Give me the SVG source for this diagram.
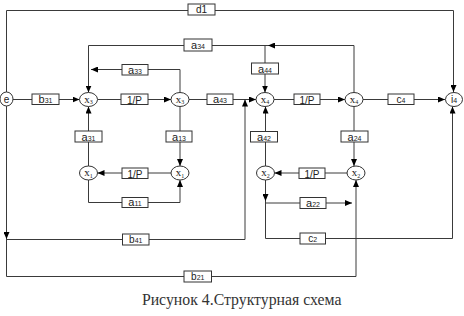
<svg xmlns="http://www.w3.org/2000/svg" width="464" height="316" viewBox="0 0 464 316">
<defs>
<marker id="ar" markerUnits="userSpaceOnUse" markerWidth="8" markerHeight="6" refX="7" refY="3" orient="auto">
<path d="M0,0 L7,3 L0,6 z" fill="#000"/>
</marker>
<style>
.ln{fill:none;stroke:#3a3a3a;stroke-width:1}
.ar{marker-end:url(#ar)}
.bx{fill:#fff;stroke:#333;stroke-width:1}
.nd{fill:#fff;stroke:#333;stroke-width:1}
.bt{font-family:"Liberation Sans",Arial,sans-serif;font-size:11px;fill:#222;text-anchor:middle}
.sm{font-size:7px}
.nt{font-family:"Liberation Serif","Times New Roman",serif;font-size:11px;fill:#222;text-anchor:middle}
.ns{font-size:6px}
.st{font-family:"Liberation Sans",Arial,sans-serif;font-size:10px;fill:#222;text-anchor:middle}
.cap{font-family:"Liberation Serif","Times New Roman",serif;font-size:15.8px;fill:#333;text-anchor:middle}
</style>
</defs>
<rect width="464" height="316" fill="#fff"/>
<g id="connectors">
<path class="ln ar" d="M6.5,92 V10.5 H453.5 V92"/>
<path class="ln ar" d="M13,99.5 H79.5"/>
<path class="ln ar" d="M97.5,99.5 H171"/>
<path class="ln ar" d="M189,99.5 H256"/>
<path class="ln ar" d="M274,99.5 H345"/>
<path class="ln ar" d="M363,99.5 H445"/>
<path class="ln ar" d="M354,92.5 V45.5 H268"/>
<path class="ln ar" d="M268,45.5 H88.5 V92.5"/>
<path class="ln ar" d="M265,45.5 V92.5"/>
<path class="ln ar" d="M180,92.5 V69.5 H91"/>
<path class="ln ar" d="M88.5,166 V106.5"/>
<path class="ln ar" d="M180,106.5 V166"/>
<path class="ln ar" d="M171,173 H97.5"/>
<path class="ln ar" d="M88.5,180 V202.5 H180 V180"/>
<path class="ln ar" d="M6.5,106 V239"/>
<path class="ln ar" d="M6.5,239.5 H245 V99.5"/>
<path class="ln ar" d="M6.5,239 V276.5 H356 V180"/>
<path class="ln ar" d="M265.5,166 V106.5"/>
<path class="ln ar" d="M354,106.5 V166"/>
<path class="ln ar" d="M347,173 H274.5"/>
<path class="ln ar" d="M265.5,180 V201"/>
<path class="ln ar" d="M265.5,201 V238.5 H452.5 V106.5"/>
<path class="ln ar" d="M265.5,203 H352"/>
</g>
<g id="d1"><rect class="bx" x="188" y="4" width="27" height="11"/><text class="st" x="201.5" y="13">d1</text></g>
<g id="b31"><rect class="bx" x="32" y="94" width="27" height="10.5"/><text class="bt" x="45.5" y="103">b<tspan class="sm">31</tspan></text></g>
<g id="p1"><rect class="bx" x="121" y="94" width="27" height="10.5"/><text class="st" x="134.5" y="103.5">1/P</text></g>
<g id="a43"><rect class="bx" x="207" y="94" width="26" height="10.5"/><text class="bt" x="220" y="103">a<tspan class="sm">43</tspan></text></g>
<g id="p4"><rect class="bx" x="294" y="94" width="26" height="10.5"/><text class="st" x="307" y="103.5">1/P</text></g>
<g id="c4"><rect class="bx" x="388" y="94" width="26" height="10.5"/><text class="st" x="401" y="103">c<tspan class="sm">4</tspan></text></g>
<g id="a34"><rect class="bx" x="184" y="39" width="28" height="12"/><text class="bt" x="198" y="49">a<tspan class="sm">34</tspan></text></g>
<g id="a44"><rect class="bx" x="251.5" y="63" width="27" height="11"/><text class="bt" x="265" y="72.5">a<tspan class="sm">44</tspan></text></g>
<g id="a33"><rect class="bx" x="122" y="64.5" width="26" height="10.5"/><text class="bt" x="135" y="73.5">a<tspan class="sm">33</tspan></text></g>
<g id="a31"><rect class="bx" x="75" y="131" width="27" height="11"/><text class="bt" x="88.5" y="140.5">a<tspan class="sm">31</tspan></text></g>
<g id="a13"><rect class="bx" x="166" y="131" width="26" height="11"/><text class="bt" x="179" y="140.5">a<tspan class="sm">13</tspan></text></g>
<g id="a42"><rect class="bx" x="250.5" y="131.5" width="27" height="10.5"/><text class="bt" x="264" y="140.5">a<tspan class="sm">42</tspan></text></g>
<g id="a24"><rect class="bx" x="341" y="131" width="27" height="11"/><text class="bt" x="354.5" y="140.5">a<tspan class="sm">24</tspan></text></g>
<g id="p1b"><rect class="bx" x="122" y="168" width="26" height="10.5"/><text class="st" x="135" y="177.5">1/P</text></g>
<g id="p2b"><rect class="bx" x="299" y="168" width="26" height="10.5"/><text class="st" x="312" y="177.5">1/P</text></g>
<g id="a11"><rect class="bx" x="122" y="197.5" width="26" height="10"/><text class="bt" x="135" y="206">a<tspan class="sm">11</tspan></text></g>
<g id="a22"><rect class="bx" x="300" y="197.5" width="26" height="11"/><text class="bt" x="313" y="206.5">a<tspan class="sm">22</tspan></text></g>
<g id="b41"><rect class="bx" x="122.5" y="234" width="26.5" height="11"/><text class="st" x="135.8" y="243">b<tspan class="sm">41</tspan></text></g>
<g id="c2"><rect class="bx" x="300" y="233" width="25.5" height="11"/><text class="st" x="312.8" y="242">c<tspan class="sm">2</tspan></text></g>
<g id="b21"><rect class="bx" x="184" y="271" width="27.5" height="11"/><text class="st" x="197.8" y="280">b<tspan class="sm">21</tspan></text></g>
<g id="e"><ellipse class="nd" cx="6.5" cy="99" rx="6.5" ry="7"/><text class="st" x="6.5" y="102.5">e</text></g>
<g id="x3a"><ellipse class="nd" cx="88.5" cy="99.5" rx="9" ry="7"/><text class="nt" x="88.5" y="102.5">x<tspan class="ns" dy="1.5">3</tspan></text></g>
<g id="x3b"><ellipse class="nd" cx="180" cy="99.5" rx="9" ry="7"/><text class="nt" x="180" y="102.5">x<tspan class="ns" dy="1.5">3</tspan></text></g>
<g id="x4a"><ellipse class="nd" cx="265" cy="99.5" rx="9" ry="7"/><text class="nt" x="265" y="102.5">x<tspan class="ns" dy="1.5">4</tspan></text></g>
<g id="x4b"><ellipse class="nd" cx="354" cy="99.5" rx="9" ry="7"/><text class="nt" x="354" y="102.5">x<tspan class="ns" dy="1.5">4</tspan></text></g>
<g id="i4"><ellipse class="nd" cx="454" cy="99.5" rx="8.5" ry="7"/><text class="st" x="454" y="103">i<tspan class="sm">4</tspan></text></g>
<g id="x1a"><ellipse class="nd" cx="88.5" cy="173" rx="9" ry="7"/><text class="nt" x="88.5" y="176">x<tspan class="ns" dy="1.5">1</tspan></text></g>
<g id="x1b"><ellipse class="nd" cx="180" cy="173" rx="9" ry="7"/><text class="nt" x="180" y="176">x<tspan class="ns" dy="1.5">1</tspan></text></g>
<g id="x2a"><ellipse class="nd" cx="265.5" cy="173" rx="9" ry="7"/><text class="nt" x="265.5" y="176">x<tspan class="ns" dy="1.5">2</tspan></text></g>
<g id="x2b"><ellipse class="nd" cx="356" cy="173" rx="9" ry="7"/><text class="nt" x="356" y="176">x<tspan class="ns" dy="1.5">2</tspan></text></g>
<text class="cap" x="241.7" y="305">Рисунок 4.Структурная схема</text>
</svg>
